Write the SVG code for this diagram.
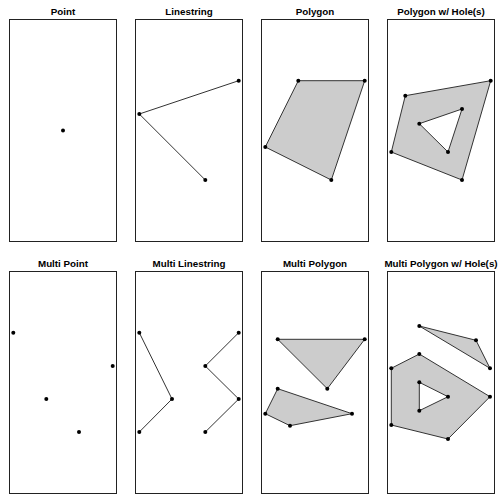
<svg xmlns="http://www.w3.org/2000/svg" width="504" height="504" viewBox="0 0 504 504">
<style>
.bg{fill:#ffffff}
.box{fill:none;stroke:#222;stroke-width:1}
.t{font-family:"Liberation Sans",Arial,sans-serif;font-weight:bold;font-size:9.8px;fill:#000;text-anchor:middle}
.ln{fill:none;stroke:#333;stroke-width:1}
.pg{fill:#cccccc;stroke:#333;stroke-width:1;fill-rule:evenodd}
.pt{fill:#000}
</style>
<rect class="bg" x="0" y="0" width="504" height="504"/>
<g id="point">
<text class="t" x="63" y="15.3">Point</text>
<rect class="box" x="9.5" y="19.5" width="107" height="222"/>
<circle class="pt" cx="63" cy="130.5" r="2"/>
</g>
<g id="linestring">
<text class="t" x="189" y="15.3">Linestring</text>
<rect class="box" x="135.5" y="19.5" width="107" height="222"/>
<polyline class="ln" points="238.7,80.7 139.3,114 205.3,180"/>
<circle class="pt" cx="238.7" cy="80.7" r="2"/>
<circle class="pt" cx="139.3" cy="114" r="2"/>
<circle class="pt" cx="205.3" cy="180" r="2"/>
</g>
<g id="polygon">
<text class="t" x="315" y="15.3">Polygon</text>
<rect class="box" x="261.5" y="19.5" width="107" height="222"/>
<polygon class="pg" points="298.3,80.7 364.7,80.7 331.3,180 265.3,147"/>
<circle class="pt" cx="298.3" cy="80.7" r="2"/>
<circle class="pt" cx="364.7" cy="80.7" r="2"/>
<circle class="pt" cx="331.3" cy="180" r="2"/>
<circle class="pt" cx="265.3" cy="147" r="2"/>
</g>
<g id="polygon-hole">
<text class="t" x="441" y="15.3">Polygon w/ Hole(s)</text>
<rect class="box" x="387.5" y="19.5" width="107" height="222"/>
<path class="pg" d="M405.3,95.7 L490.7,80.7 L462,180 L391.3,152 Z M419.3,123.7 L462,109 L448,152 Z"/>
<circle class="pt" cx="405.3" cy="95.7" r="2"/>
<circle class="pt" cx="490.7" cy="80.7" r="2"/>
<circle class="pt" cx="462" cy="180" r="2"/>
<circle class="pt" cx="391.3" cy="152" r="2"/>
<circle class="pt" cx="419.3" cy="123.7" r="2"/>
<circle class="pt" cx="462" cy="109" r="2"/>
<circle class="pt" cx="448" cy="152" r="2"/>
</g>
<g id="multi-point">
<text class="t" x="63" y="267">Multi Point</text>
<rect class="box" x="9.5" y="271.5" width="107" height="222"/>
<circle class="pt" cx="13.3" cy="332.7" r="2"/>
<circle class="pt" cx="112.7" cy="366" r="2"/>
<circle class="pt" cx="46.3" cy="399" r="2"/>
<circle class="pt" cx="79" cy="432" r="2"/>
</g>
<g id="multi-linestring">
<text class="t" x="189" y="267">Multi Linestring</text>
<rect class="box" x="135.5" y="271.5" width="107" height="222"/>
<polyline class="ln" points="139.3,332.7 172,399 139.3,432"/>
<polyline class="ln" points="238.7,332.7 205.3,366 238.7,399 205.3,432"/>
<circle class="pt" cx="139.3" cy="332.7" r="2"/>
<circle class="pt" cx="172" cy="399" r="2"/>
<circle class="pt" cx="139.3" cy="432" r="2"/>
<circle class="pt" cx="238.7" cy="332.7" r="2"/>
<circle class="pt" cx="205.3" cy="366" r="2"/>
<circle class="pt" cx="238.7" cy="399" r="2"/>
<circle class="pt" cx="205.3" cy="432" r="2"/>
</g>
<g id="multi-polygon">
<text class="t" x="315" y="267">Multi Polygon</text>
<rect class="box" x="261.5" y="271.5" width="107" height="222"/>
<polygon class="pg" points="277.7,339.3 364.7,339.3 327.3,388.7"/>
<polygon class="pg" points="277.7,388.7 352,413.7 290,425.7 265.3,413.7"/>
<circle class="pt" cx="277.7" cy="339.3" r="2"/>
<circle class="pt" cx="364.7" cy="339.3" r="2"/>
<circle class="pt" cx="327.3" cy="388.7" r="2"/>
<circle class="pt" cx="277.7" cy="388.7" r="2"/>
<circle class="pt" cx="352" cy="413.7" r="2"/>
<circle class="pt" cx="290" cy="425.7" r="2"/>
<circle class="pt" cx="265.3" cy="413.7" r="2"/>
</g>
<g id="multi-polygon-hole">
<text class="t" x="441" y="267">Multi Polygon w/ Hole(s)</text>
<rect class="box" x="387.5" y="271.5" width="107" height="222"/>
<polygon class="pg" points="419.3,326 476,340.3 490,368.3"/>
<path class="pg" d="M419.3,354 L391.3,368.3 L391.3,425 L448,439 L490,396.7 Z M419.3,382.3 L448,396.7 L419.3,410.7 Z"/>
<circle class="pt" cx="419.3" cy="326" r="2"/>
<circle class="pt" cx="476" cy="340.3" r="2"/>
<circle class="pt" cx="490" cy="368.3" r="2"/>
<circle class="pt" cx="419.3" cy="354" r="2"/>
<circle class="pt" cx="391.3" cy="368.3" r="2"/>
<circle class="pt" cx="391.3" cy="425" r="2"/>
<circle class="pt" cx="448" cy="439" r="2"/>
<circle class="pt" cx="490" cy="396.7" r="2"/>
<circle class="pt" cx="419.3" cy="382.3" r="2"/>
<circle class="pt" cx="448" cy="396.7" r="2"/>
<circle class="pt" cx="419.3" cy="410.7" r="2"/>
</g>
</svg>
